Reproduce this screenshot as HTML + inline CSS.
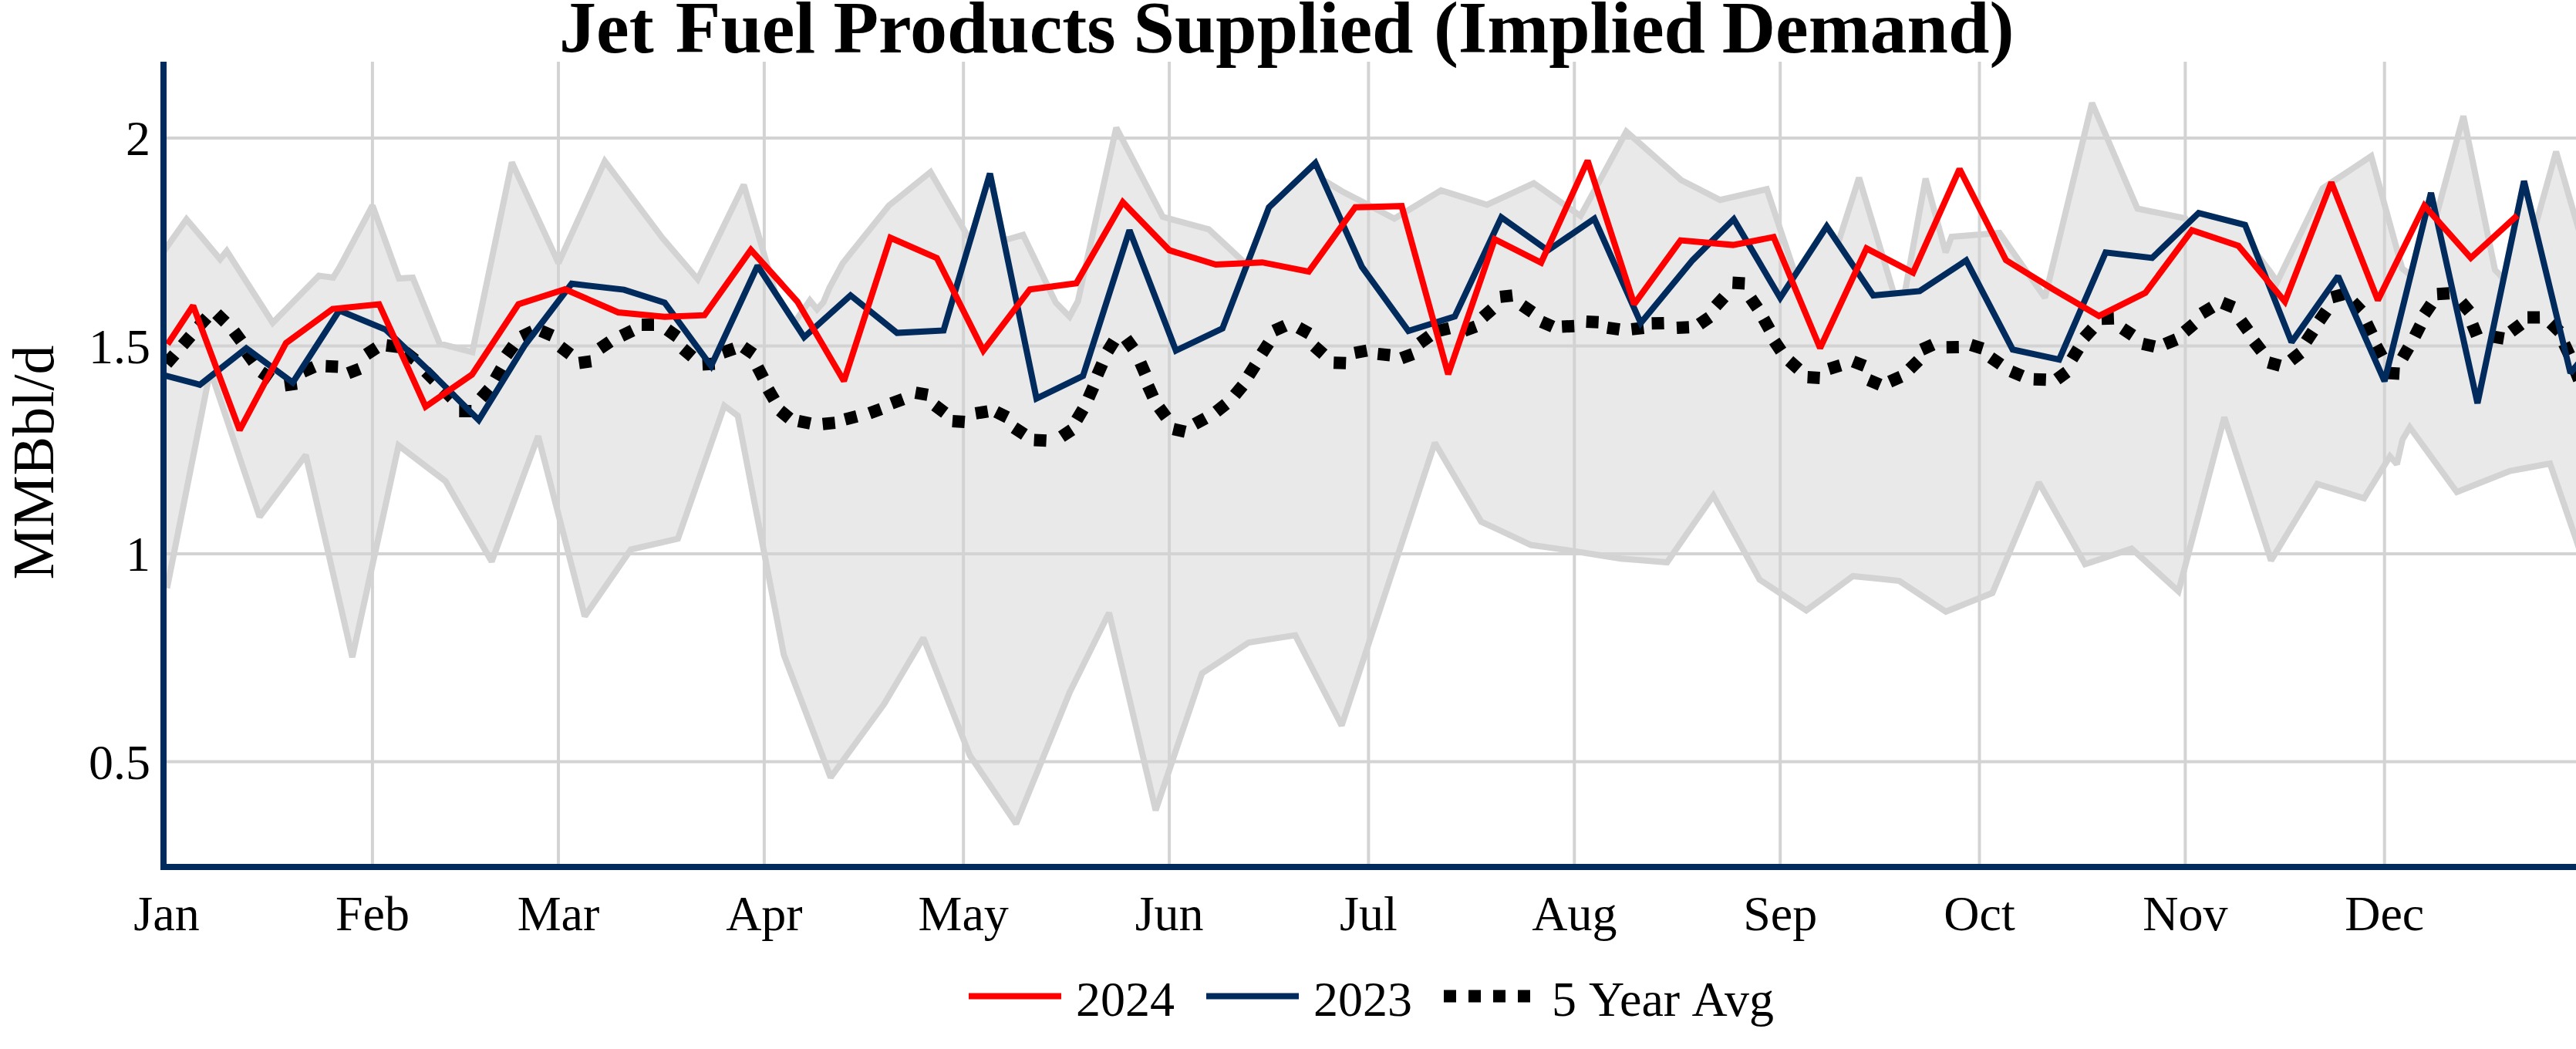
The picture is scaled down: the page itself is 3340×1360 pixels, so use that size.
<!DOCTYPE html><html><head><meta charset="utf-8"><title>Jet Fuel Products Supplied</title><style>html,body{margin:0;padding:0;background:#fff;width:3340px;height:1360px;overflow:hidden}</style></head><body><svg width="3340" height="1360" viewBox="0 0 3340 1360" style="display:block;position:absolute;left:0;top:0;font-family:'Liberation Serif',serif">
<rect width="3340" height="1360" fill="#fff"/>
<defs><clipPath id="c"><rect x="216" y="80" width="3124" height="1040"/></clipPath></defs>
<line x1="482.9" x2="482.9" y1="80" y2="1120" stroke="#d3d3d3" stroke-width="4"/>
<line x1="724.0" x2="724.0" y1="80" y2="1120" stroke="#d3d3d3" stroke-width="4"/>
<line x1="990.9" x2="990.9" y1="80" y2="1120" stroke="#d3d3d3" stroke-width="4"/>
<line x1="1249.2" x2="1249.2" y1="80" y2="1120" stroke="#d3d3d3" stroke-width="4"/>
<line x1="1516.1" x2="1516.1" y1="80" y2="1120" stroke="#d3d3d3" stroke-width="4"/>
<line x1="1774.4" x2="1774.4" y1="80" y2="1120" stroke="#d3d3d3" stroke-width="4"/>
<line x1="2041.3" x2="2041.3" y1="80" y2="1120" stroke="#d3d3d3" stroke-width="4"/>
<line x1="2308.2" x2="2308.2" y1="80" y2="1120" stroke="#d3d3d3" stroke-width="4"/>
<line x1="2566.5" x2="2566.5" y1="80" y2="1120" stroke="#d3d3d3" stroke-width="4"/>
<line x1="2833.4" x2="2833.4" y1="80" y2="1120" stroke="#d3d3d3" stroke-width="4"/>
<line x1="3091.7" x2="3091.7" y1="80" y2="1120" stroke="#d3d3d3" stroke-width="4"/>
<line x1="216" x2="3340" y1="987.5" y2="987.5" stroke="#d3d3d3" stroke-width="4"/>
<line x1="216" x2="3340" y1="718.0" y2="718.0" stroke="#d3d3d3" stroke-width="4"/>
<line x1="216" x2="3340" y1="448.5" y2="448.5" stroke="#d3d3d3" stroke-width="4"/>
<line x1="216" x2="3340" y1="179.0" y2="179.0" stroke="#d3d3d3" stroke-width="4"/>
<g clip-path="url(#c)" fill="none" stroke-linejoin="miter" stroke-miterlimit="2">
<polygon points="200.0,344.4 216.0,320.8 241.8,284.2 259.1,304.7 285.4,336.1 294.0,325.4 319.3,365.0 353.6,418.5 379.6,392.0 413.5,357.4 431.9,359.9 439.9,347.0 441.0,345.2 483.0,266.5 500.1,313.7 517.3,361.1 535.2,359.9 560.4,421.7 570.0,445.3 612.4,456.6 620.7,416.9 663.7,210.5 680.9,247.7 724.1,341.0 741.2,303.4 784.2,209.1 809.1,242.2 858.9,308.6 861.8,311.9 904.7,362.0 922.0,326.5 964.4,239.5 982.3,300.8 1005.4,380.0 1008.0,384.0 1015.0,394.8 1030.2,418.1 1042.6,400.3 1050.1,389.4 1059.4,401.0 1067.5,392.0 1075.5,373.0 1092.5,341.5 1102.8,328.6 1152.5,266.5 1163.1,258.0 1206.5,223.0 1223.4,252.2 1248.9,296.3 1258.0,311.6 1263.0,294.7 1283.6,225.0 1300.0,304.2 1301.5,311.6 1307.8,310.0 1326.5,304.5 1343.9,340.6 1368.8,392.2 1386.8,410.5 1397.6,390.5 1404.2,360.7 1447.3,165.5 1464.5,198.4 1507.6,281.2 1524.7,285.8 1567.3,297.3 1585.0,313.8 1612.5,339.5 1616.6,343.6 1630.0,308.6 1645.3,268.8 1695.0,221.3 1700.0,216.6 1705.5,211.3 1715.3,233.2 1722.7,237.5 1740.0,248.0 1765.8,261.3 1774.4,265.8 1807.9,283.5 1826.1,272.5 1868.4,246.8 1886.3,252.4 1928.0,265.5 1946.6,256.9 1988.7,237.5 2006.9,250.3 2049.3,280.0 2067.2,247.1 2108.7,170.5 2127.4,187.1 2179.8,233.5 2194.6,241.0 2230.2,259.2 2248.0,255.1 2290.8,245.2 2308.2,297.2 2327.9,355.9 2333.0,348.1 2368.5,293.5 2372.0,298.7 2383.2,315.3 2410.4,230.5 2428.8,291.5 2453.8,374.6 2455.7,380.6 2458.0,380.3 2466.0,379.6 2469.0,379.3 2470.6,374.6 2489.0,273.5 2496.7,231.5 2522.7,327.3 2530.3,307.0 2549.3,305.5 2592.6,302.0 2609.6,326.3 2651.4,386.0 2669.9,309.8 2712.5,133.5 2730.1,174.5 2771.4,270.5 2790.4,274.3 2833.3,283.0 2837.4,289.0 2845.0,281.7 2850.7,276.2 2910.9,291.5 2915.0,301.8 2925.9,329.2 2943.0,351.6 2952.5,365.5 2971.2,327.0 3011.4,244.2 3031.5,230.9 3074.5,202.5 3091.7,265.0 3114.7,348.2 3121.0,353.0 3125.3,358.2 3135.0,318.9 3152.0,250.0 3152.0,250.0 3158.7,280.3 3194.0,150.5 3212.3,239.5 3235.0,350.1 3241.0,356.0 3245.8,362.4 3262.0,285.2 3272.6,234.8 3287.0,294.3 3290.9,280.2 3314.2,196.5 3332.8,260.7 3340.0,285.5 3350.0,320.0 3350.0,729.0 3340.0,699.0 3332.8,678.1 3306.3,601.0 3272.6,607.2 3254.5,610.5 3212.3,627.3 3185.5,638.0 3152.0,591.9 3124.5,554.0 3115.0,570.0 3107.8,601.9 3098.8,591.7 3091.7,603.1 3065.2,646.0 3031.5,635.6 3004.6,627.4 2971.2,682.7 2944.6,726.7 2910.9,623.5 2884.0,541.0 2850.7,667.7 2824.6,766.7 2790.4,735.5 2763.8,711.3 2730.1,722.6 2703.5,731.5 2669.9,672.0 2643.6,625.5 2609.6,706.3 2583.3,768.8 2549.3,782.4 2523.0,793.0 2489.0,770.6 2462.5,753.1 2428.8,749.6 2402.5,746.9 2368.5,771.9 2342.0,791.3 2308.2,769.1 2281.5,751.5 2248.0,690.6 2221.5,642.5 2194.6,681.3 2161.5,729.0 2127.4,726.3 2101.6,724.2 2067.2,718.7 2041.3,714.6 2006.9,709.6 1985.0,706.5 1946.6,688.5 1920.5,676.3 1886.3,618.2 1860.4,574.0 1826.1,678.2 1765.8,861.1 1739.6,940.6 1705.5,874.4 1679.4,823.6 1645.3,828.9 1619.0,833.0 1585.0,855.5 1558.5,873.0 1524.7,972.8 1498.4,1050.5 1464.5,906.6 1438.0,794.5 1404.2,862.7 1387.1,897.2 1343.9,1003.2 1317.5,1068.0 1283.6,1018.0 1257.6,979.6 1223.4,893.1 1197.2,827.0 1163.1,884.5 1146.3,912.8 1102.8,972.5 1077.0,1008.0 1042.6,917.8 1016.3,849.0 982.3,672.4 956.6,539.0 939.2,526.0 922.0,575.2 879.0,698.4 861.8,702.4 818.0,712.4 809.1,725.3 758.2,799.0 741.2,733.3 697.8,565.5 680.9,610.9 637.5,728.0 620.7,698.7 577.6,623.8 560.4,610.7 516.8,577.5 500.1,653.8 456.8,852.0 439.9,778.4 396.5,590.0 379.6,612.6 336.6,670.0 319.3,618.7 274.8,486.5 272.6,488.2 270.7,489.7 259.1,548.4 216.6,762.5" fill="rgba(211,211,211,0.5)" stroke="none"/>
<polyline points="200.0,344.4 216.0,320.8 241.8,284.2 259.1,304.7 285.4,336.1 294.0,325.4 319.3,365.0 353.6,418.5 379.6,392.0 413.5,357.4 431.9,359.9 439.9,347.0 441.0,345.2 483.0,266.5 500.1,313.7 517.3,361.1 535.2,359.9 560.4,421.7 570.0,445.3 612.4,456.6 620.7,416.9 663.7,210.5 680.9,247.7 724.1,341.0 741.2,303.4 784.2,209.1 809.1,242.2 858.9,308.6 861.8,311.9 904.7,362.0 922.0,326.5 964.4,239.5 982.3,300.8 1005.4,380.0 1008.0,384.0 1015.0,394.8 1030.2,418.1 1042.6,400.3 1050.1,389.4 1059.4,401.0 1067.5,392.0 1075.5,373.0 1092.5,341.5 1102.8,328.6 1152.5,266.5 1163.1,258.0 1206.5,223.0 1223.4,252.2 1248.9,296.3 1258.0,311.6 1263.0,294.7 1283.6,225.0 1300.0,304.2 1301.5,311.6 1307.8,310.0 1326.5,304.5 1343.9,340.6 1368.8,392.2 1386.8,410.5 1397.6,390.5 1404.2,360.7 1447.3,165.5 1464.5,198.4 1507.6,281.2 1524.7,285.8 1567.3,297.3 1585.0,313.8 1612.5,339.5 1616.6,343.6 1630.0,308.6 1645.3,268.8 1695.0,221.3 1700.0,216.6 1705.5,211.3 1715.3,233.2 1722.7,237.5 1740.0,248.0 1765.8,261.3 1774.4,265.8 1807.9,283.5 1826.1,272.5 1868.4,246.8 1886.3,252.4 1928.0,265.5 1946.6,256.9 1988.7,237.5 2006.9,250.3 2049.3,280.0 2067.2,247.1 2108.7,170.5 2127.4,187.1 2179.8,233.5 2194.6,241.0 2230.2,259.2 2248.0,255.1 2290.8,245.2 2308.2,297.2 2327.9,355.9 2333.0,348.1 2368.5,293.5 2372.0,298.7 2383.2,315.3 2410.4,230.5 2428.8,291.5 2453.8,374.6 2455.7,380.6 2458.0,380.3 2466.0,379.6 2469.0,379.3 2470.6,374.6 2489.0,273.5 2496.7,231.5 2522.7,327.3 2530.3,307.0 2549.3,305.5 2592.6,302.0 2609.6,326.3 2651.4,386.0 2669.9,309.8 2712.5,133.5 2730.1,174.5 2771.4,270.5 2790.4,274.3 2833.3,283.0 2837.4,289.0 2845.0,281.7 2850.7,276.2 2910.9,291.5 2915.0,301.8 2925.9,329.2 2943.0,351.6 2952.5,365.5 2971.2,327.0 3011.4,244.2 3031.5,230.9 3074.5,202.5 3091.7,265.0 3114.7,348.2 3121.0,353.0 3125.3,358.2 3135.0,318.9 3152.0,250.0 3152.0,250.0 3158.7,280.3 3194.0,150.5 3212.3,239.5 3235.0,350.1 3241.0,356.0 3245.8,362.4 3262.0,285.2 3272.6,234.8 3287.0,294.3 3290.9,280.2 3314.2,196.5 3332.8,260.7 3340.0,285.5 3350.0,320.0" stroke="#d3d3d3" stroke-width="8"/>
<polyline points="216.6,762.5 259.1,548.4 270.7,489.7 272.6,488.2 274.8,486.5 319.3,618.7 336.6,670.0 379.6,612.6 396.5,590.0 439.9,778.4 456.8,852.0 500.1,653.8 516.8,577.5 560.4,610.7 577.6,623.8 620.7,698.7 637.5,728.0 680.9,610.9 697.8,565.5 741.2,733.3 758.2,799.0 809.1,725.3 818.0,712.4 861.8,702.4 879.0,698.4 922.0,575.2 939.2,526.0 956.6,539.0 982.3,672.4 1016.3,849.0 1042.6,917.8 1077.0,1008.0 1102.8,972.5 1146.3,912.8 1163.1,884.5 1197.2,827.0 1223.4,893.1 1257.6,979.6 1283.6,1018.0 1317.5,1068.0 1343.9,1003.2 1387.1,897.2 1404.2,862.7 1438.0,794.5 1464.5,906.6 1498.4,1050.5 1524.7,972.8 1558.5,873.0 1585.0,855.5 1619.0,833.0 1645.3,828.9 1679.4,823.6 1705.5,874.4 1739.6,940.6 1765.8,861.1 1826.1,678.2 1860.4,574.0 1886.3,618.2 1920.5,676.3 1946.6,688.5 1985.0,706.5 2006.9,709.6 2041.3,714.6 2067.2,718.7 2101.6,724.2 2127.4,726.3 2161.5,729.0 2194.6,681.3 2221.5,642.5 2248.0,690.6 2281.5,751.5 2308.2,769.1 2342.0,791.3 2368.5,771.9 2402.5,746.9 2428.8,749.6 2462.5,753.1 2489.0,770.6 2523.0,793.0 2549.3,782.4 2583.3,768.8 2609.6,706.3 2643.6,625.5 2669.9,672.0 2703.5,731.5 2730.1,722.6 2763.8,711.3 2790.4,735.5 2824.6,766.7 2850.7,667.7 2884.0,541.0 2910.9,623.5 2944.6,726.7 2971.2,682.7 3004.6,627.4 3031.5,635.6 3065.2,646.0 3091.7,603.1 3098.8,591.7 3107.8,601.9 3115.0,570.0 3124.5,554.0 3152.0,591.9 3185.5,638.0 3212.3,627.3 3254.5,610.5 3272.6,607.2 3306.3,601.0 3332.8,678.1 3340.0,699.0 3350.0,729.0" stroke="#d3d3d3" stroke-width="8"/>
<path d="M216.0,471.5L226.5,459.4 M236.8,447.5L247.2,435.5 M257.5,423.4L268.3,411.6 M280.8,406.6L292.2,417.8 M303.2,429.4L312.8,442.2 M319.7,456.5L329.1,469.5 M338.6,482.1L351.8,491.1 M369.1,499.6L384.9,497.4 M392.9,481.9L407.5,475.5 M422.3,474.8L438.3,475.4 M451.4,483.9L466.4,478.1 M475.1,459.4L488.5,450.8 M501.0,447.8L516.8,449.8 M525.5,456.6L538.1,466.6 M551.9,481.7L563.3,493.1 M574.7,504.6L586.1,516.0 M595.3,533.0L611.3,533.0 M623.8,516.3L634.4,504.3 M642.2,491.4L650.2,477.6 M656.4,461.0L665.8,448.0 M676.2,436.4L690.6,429.6 M701.3,428.8L715.9,435.2 M726.6,449.7L739.4,459.3 M750.7,470.6L766.5,468.4 M777.8,451.8L791.0,442.8 M805.8,435.4L820.2,428.6 M832.0,421.0L848.0,421.0 M865.1,427.4L878.1,436.6 M885.5,452.1L897.7,462.5 M910.8,472.4L926.8,471.6 M937.0,457.1L952.2,451.9 M963.7,450.0L976.9,459.0 M982.3,475.9L989.7,490.1 M996.0,504.8L1004.0,518.6 M1011.3,532.3L1023.7,542.5 M1035.2,545.8L1050.8,549.0 M1066.7,549.7L1082.7,548.1 M1095.6,543.7L1111.0,539.7 M1127.3,535.7L1142.3,530.3 M1155.9,523.1L1170.9,517.5 M1187.0,509.1L1202.8,511.9 M1212.2,525.5L1225.0,535.1 M1234.9,545.9L1250.9,547.1 M1265.0,535.9L1280.8,533.3 M1291.5,533.8L1305.9,541.0 M1314.9,554.5L1328.3,563.3 M1340.7,570.4L1356.7,571.2 M1376.3,566.1L1389.7,557.3 M1396.1,544.3L1404.3,530.5 M1411.3,516.1L1417.7,501.5 M1422.8,486.1L1429.2,471.5 M1436.1,455.6L1444.5,442.0 M1459.9,439.0L1469.3,452.0 M1478.6,470.1L1485.0,484.7 M1488.5,500.1L1495.1,514.7 M1502.8,528.2L1512.2,541.0 M1521.2,556.2L1536.8,559.8 M1549.1,549.8L1563.1,542.2 M1577.0,533.8L1589.6,523.8 M1601.1,512.2L1611.3,499.8 M1619.0,487.0L1627.6,473.4 M1636.1,458.3L1644.9,444.9 M1651.8,428.8L1666.4,422.2 M1683.6,424.8L1697.6,432.6 M1704.0,448.7L1716.0,459.3 M1729.2,470.2L1745.2,470.8 M1756.5,457.5L1772.3,454.5 M1786.4,458.9L1802.4,460.5 M1816.9,464.5L1831.9,458.9 M1840.8,445.0L1853.8,435.6 M1863.8,429.3L1879.4,425.5 M1898.5,428.8L1913.5,423.2 M1922.8,411.3L1934.8,400.7 M1945.1,384.9L1961.1,383.1 M1973.7,395.8L1986.9,404.8 M1998.7,417.1L2013.3,423.5 M2025.2,423.5L2041.2,422.7 M2056.7,417.0L2072.7,417.8 M2084.0,424.8L2099.8,427.2 M2115.4,426.9L2131.2,425.1 M2141.6,419.3L2157.6,418.9 M2174.0,425.0L2190.0,424.2 M2203.4,420.4L2216.6,411.2 M2224.6,396.9L2235.4,385.1 M2246.3,366.6L2262.3,367.4 M2269.9,386.4L2278.9,399.6 M2286.6,413.2L2294.4,427.2 M2300.6,442.1L2309.4,455.3 M2319.9,467.8L2331.9,478.4 M2343.6,489.1L2359.6,489.9 M2371.2,478.3L2386.4,473.7 M2402.7,468.6L2417.7,474.4 M2422.9,492.7L2437.7,498.9 M2450.1,494.8L2464.7,488.4 M2476.1,478.7L2487.5,467.3 M2491.6,453.4L2506.2,446.8 M2523.8,450.2L2539.8,450.0 M2555.4,447.1L2570.6,451.9 M2581.0,463.5L2594.2,472.5 M2607.4,481.4L2622.2,487.6 M2636.8,491.7L2652.8,492.3 M2666.9,491.7L2679.9,482.3 M2686.4,465.6L2694.8,452.0 M2702.3,437.9L2713.1,426.1 M2724.9,413.3L2740.9,412.7 M2751.9,425.9L2765.3,434.7 M2778.0,445.7L2793.6,449.3 M2807.0,446.2L2821.8,440.0 M2832.6,430.2L2844.8,419.8 M2854.7,406.4L2868.5,398.2 M2881.3,392.5L2896.1,398.5 M2905.5,415.8L2914.9,428.8 M2922.5,442.5L2932.3,455.1 M2941.1,469.9L2956.5,474.1 M2970.3,467.2L2982.9,457.4 M2990.2,442.7L2999.0,429.3 M3007.1,416.1L3016.3,402.9 M3023.3,385.6L3038.7,381.4 M3050.5,391.5L3061.5,403.1 M3068.3,418.8L3075.3,433.2 M3080.8,448.2L3088.4,462.2 M3095.2,483.5L3111.2,484.5 M3115.0,464.3L3123.0,450.5 M3131.1,435.9L3138.3,421.7 M3143.4,407.4L3152.4,394.2 M3159.9,381.2L3175.9,380.2 M3191.3,391.8L3201.7,404.0 M3205.6,420.5L3211.6,435.3 M3230.7,436.2L3246.5,438.8 M3255.8,429.9L3268.6,420.3 M3277.1,411.6L3293.1,411.4 M3307.2,418.7L3318.8,429.9 M3324.6,445.6L3331.4,460.2 M3338.0,477.6L3344.0,492.4" stroke="#000" stroke-width="16"/>
<polyline points="198.8,482.8 259.1,498.8 319.3,451.6 379.6,496.0 439.9,402.5 500.1,427.3 560.4,484.5 620.7,544.6 680.9,447.0 741.2,367.8 809.1,375.6 861.8,392.5 922.0,474.5 982.3,344.5 1042.6,437.2 1102.8,383.0 1163.1,431.6 1223.4,428.5 1283.6,225.0 1343.9,516.7 1404.2,487.4 1464.5,298.5 1524.7,454.6 1585.0,425.9 1645.3,268.8 1705.5,211.3 1765.8,345.9 1826.1,429.1 1886.3,410.3 1946.6,281.8 2006.9,324.7 2067.2,283.5 2127.4,418.8 2194.6,337.3 2248.0,284.1 2308.2,386.2 2368.5,293.5 2428.8,383.1 2489.0,377.4 2549.3,337.6 2609.6,453.2 2669.9,466.1 2730.1,327.3 2790.4,334.4 2850.7,276.2 2910.9,291.5 2971.2,443.6 3031.5,358.0 3091.7,494.2 3152.0,250.0 3212.3,522.8 3272.6,234.8 3332.8,483.6 3393.1,410.0" stroke="#002b5c" stroke-width="8"/>
<polyline points="217.3,446.3 250.4,396.3 310.7,557.7 370.9,444.7 431.2,400.6 491.5,394.4 551.8,527.2 612.0,485.6 672.3,394.4 732.6,375.0 801.5,405.0 861.7,410.8 913.4,408.7 973.6,324.0 1033.9,391.0 1094.2,494.0 1154.5,308.3 1214.7,334.5 1275.0,454.5 1335.3,375.2 1395.5,367.3 1455.8,262.0 1516.1,324.4 1576.3,343.0 1636.6,340.2 1696.9,352.2 1757.2,268.7 1817.4,267.2 1877.7,485.3 1938.0,310.1 1998.2,340.5 2058.5,208.3 2118.8,394.3 2179.0,311.6 2247.0,317.6 2299.6,307.3 2359.9,451.2 2420.1,322.1 2480.4,353.6 2540.7,219.1 2600.9,337.3 2661.2,374.5 2721.5,409.6 2781.7,379.6 2842.0,298.5 2902.3,318.7 2962.6,391.0 3022.8,236.5 3083.1,389.2 3143.4,266.5 3203.6,334.4 3263.9,279.3" stroke="#ff0000" stroke-width="8"/>
</g>
<line x1="212" x2="212" y1="80" y2="1128" stroke="#002b5c" stroke-width="8"/>
<line x1="208" x2="3340" y1="1124" y2="1124" stroke="#002b5c" stroke-width="8"/>
<text x="216.0" y="1206" font-size="64" text-anchor="middle">Jan</text>
<text x="482.9" y="1206" font-size="64" text-anchor="middle">Feb</text>
<text x="724.0" y="1206" font-size="64" text-anchor="middle">Mar</text>
<text x="990.9" y="1206" font-size="64" text-anchor="middle">Apr</text>
<text x="1249.2" y="1206" font-size="64" text-anchor="middle">May</text>
<text x="1516.1" y="1206" font-size="64" text-anchor="middle">Jun</text>
<text x="1774.4" y="1206" font-size="64" text-anchor="middle">Jul</text>
<text x="2041.3" y="1206" font-size="64" text-anchor="middle">Aug</text>
<text x="2308.2" y="1206" font-size="64" text-anchor="middle">Sep</text>
<text x="2566.5" y="1206" font-size="64" text-anchor="middle">Oct</text>
<text x="2833.4" y="1206" font-size="64" text-anchor="middle">Nov</text>
<text x="3091.7" y="1206" font-size="64" text-anchor="middle">Dec</text>
<text x="195" y="1009.5" font-size="64" text-anchor="end">0.5</text>
<text x="195" y="740.0" font-size="64" text-anchor="end">1</text>
<text x="195" y="470.5" font-size="64" text-anchor="end">1.5</text>
<text x="195" y="201.0" font-size="64" text-anchor="end">2</text>
<text transform="translate(69,599.5) rotate(-90)" font-size="76" text-anchor="middle">MMBbl/d</text>
<text y="68" font-size="96" font-weight="bold"><tspan x="725.1">Jet</tspan><tspan x="875.8">Fuel</tspan><tspan x="1080.4">Products</tspan><tspan x="1469.5">Supplied</tspan><tspan x="1858.9">(Implied</tspan><tspan x="2232.7">Demand)</tspan></text>
<line x1="1256" x2="1376" y1="1291.5" y2="1291.5" stroke="#ff0000" stroke-width="8"/>
<text x="1395" y="1317" font-size="64">2024</text>
<line x1="1564" x2="1684" y1="1291.5" y2="1291.5" stroke="#002b5c" stroke-width="8"/>
<text x="1703" y="1317" font-size="64">2023</text>
<line x1="1872" x2="1992" y1="1291.5" y2="1291.5" stroke="#000" stroke-width="16" stroke-dasharray="16,16"/>
<text y="1317" font-size="64" style="font-kerning:none"><tspan x="2012">5 </tspan><tspan x="2060">Y</tspan><tspan x="2100">ear </tspan><tspan x="2193.5">A</tspan><tspan x="2236">vg</tspan></text>
</svg></body></html>
